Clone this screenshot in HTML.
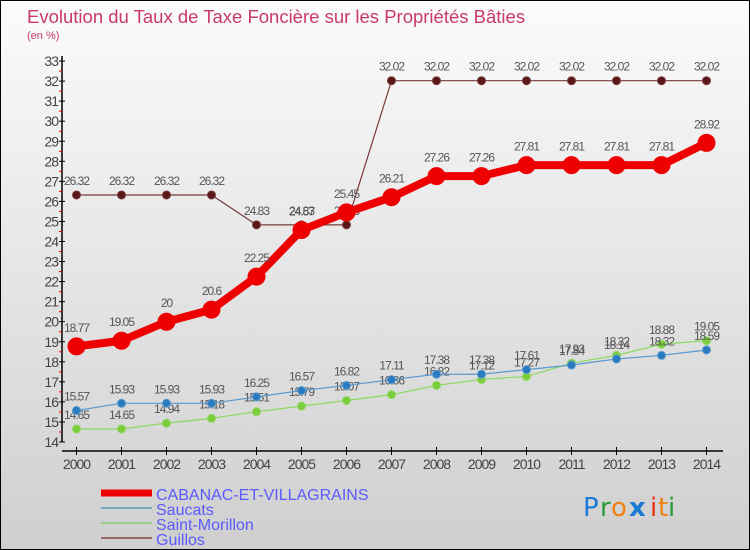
<!DOCTYPE html>
<html><head><meta charset="utf-8"><style>
html,body{margin:0;padding:0}
body{width:750px;height:550px;overflow:hidden;font-family:"Liberation Sans",sans-serif}
#wrap{position:relative;width:748px;height:548px;border:1px solid #000;background:linear-gradient(#fbfbfb,#cfcfcf)}
</style></head><body>
<div id="wrap">
<svg id="chart" width="748" height="548" style="position:absolute;left:0;top:0">
<text x="26" y="22" font-size="18.5" fill="#c83a68">Evolution du Taux de Taxe Foncière sur les Propriétés Bâties</text>
<text x="26" y="38" font-size="11" fill="#c83a68">(en %)</text>
<g id="axes"></g><g id="series"></g>
<g>
<line x1="100" y1="492" x2="151" y2="492" stroke="#e00" stroke-width="7"/>
<text x="155" y="499" font-size="16" fill="#5a5aff">CABANAC-ET-VILLAGRAINS</text>
<line x1="100" y1="507" x2="151" y2="507" stroke="#7ab" stroke-width="2"/>
<text x="155" y="514" font-size="16" fill="#5a5aff">Saucats</text>
<line x1="100" y1="522" x2="151" y2="522" stroke="#9c8" stroke-width="2"/>
<text x="155" y="529" font-size="16" fill="#5a5aff">Saint-Morillon</text>
<line x1="100" y1="537" x2="151" y2="537" stroke="#966" stroke-width="2"/>
<text x="155" y="544" font-size="16" fill="#5a5aff">Guillos</text>
</g>
<g font-size="26" font-family="'DejaVu Sans',sans-serif">
<text x="582" y="515" fill="#1a7ad4">P</text><text x="599" y="515" fill="#2a9a3a">r</text><text x="610" y="515" fill="#f08010">o</text><text x="628" y="515" fill="#1a7ad4" font-weight="bold">x</text><text x="649" y="515" fill="#e83010">i</text><text x="657" y="515" fill="#f08010">t</text><text x="667" y="515" fill="#2a9a3a">i</text>
</g>
</svg>
</div>
<script>
const years=[2000,2001,2002,2003,2004,2005,2006,2007,2008,2009,2010,2011,2012,2013,2014];
const yTicks=[14,15,16,17,18,19,20,21,22,23,24,25,26,27,28,29,30,31,32,33];
const cabanac=[18.77,19.05,20,20.6,22.25,24.57,25.45,26.21,27.26,27.26,27.81,27.81,27.81,27.81,28.92];
const saucats=[15.57,15.93,15.93,15.93,16.25,16.57,16.82,17.11,17.38,17.38,17.61,17.84,18.14,18.32,18.59];
const morillon=[14.65,14.65,14.94,15.18,15.51,15.79,16.07,16.36,16.82,17.12,17.27,17.93,18.32,18.88,19.05];
const guillos=[26.32,26.32,26.32,26.32,24.83,24.83,24.83,32.02,32.02,32.02,32.02,32.02,32.02,32.02,32.02];
const NS="http://www.w3.org/2000/svg";
const xS=i=>75.5+i*45;
const yS=v=>441-(v-14)*20.05;
function mk(tag,attrs,parent){const e=document.createElementNS(NS,tag);for(const k in attrs)e.setAttribute(k,attrs[k]);parent.appendChild(e);return e;}
const ax=document.getElementById('axes');
const yl=mk('line',{x1:61,y1:55,x2:61,y2:441,stroke:'#000','stroke-width':1.5},ax);


yTicks.forEach((t,i)=>{
  mk('line',{x1:58,y1:yS(t),x2:64,y2:yS(t),stroke:'#000'},ax);
  if(i<yTicks.length-1) mk('line',{x1:58,y1:yS(t+0.5),x2:61,y2:yS(t+0.5),stroke:'#e00'},ax);
  const tx=mk('text',{x:57,y:yS(t)+5,'font-size':14,'text-anchor':'end',fill:'#444','letter-spacing':'-1'},ax);
  tx.textContent=t;
  
  
});
const xl=mk('line',{x1:61,y1:450,x2:722,y2:450,stroke:'#000','stroke-width':1.5},ax);


years.forEach((y,i)=>{
  mk('line',{x1:xS(i),y1:446,x2:xS(i),y2:454,stroke:'#000'},ax);
  const tx=mk('text',{x:xS(i),y:468,'font-size':14,'text-anchor':'middle',fill:'#444','letter-spacing':'-1'},ax);
  tx.textContent=y;
  
  
});
const sg=document.getElementById('series');
function series(vals,name,color,lw,r,dotFill){
  const g=mk('g',{},sg);
  
  
  let d='';
  vals.forEach((v,i)=>{d+=(i?'L':'M')+xS(i)+' '+yS(v)+' ';});
  mk('path',{d:d,fill:'none',stroke:color,'stroke-width':lw,'stroke-linejoin':'round'},g);
  vals.forEach((v,i)=>{
    const c=mk('circle',{cx:xS(i),cy:yS(v),r:r,fill:dotFill,stroke:color,'stroke-width':1},g);
    
    
    const t=mk('text',{x:xS(i),y:yS(v)-(r+6),'font-size':12,'text-anchor':'middle',fill:'#555','letter-spacing':'-1'},g);
    t.textContent=String(v);
    
    
  });
}
series(guillos,'guillos','#7a3a3a',1.2,4,'#5a1818');
series(morillon,'saint-morillon','#8cd860',1.2,4,'#7ccc3c');
series(saucats,'saucats','#5a9ad0',1.2,4,'#2a7ac0');
series(cabanac,'cabanac','#e00',8,8.5,'#e00');
</script>
</body></html>
